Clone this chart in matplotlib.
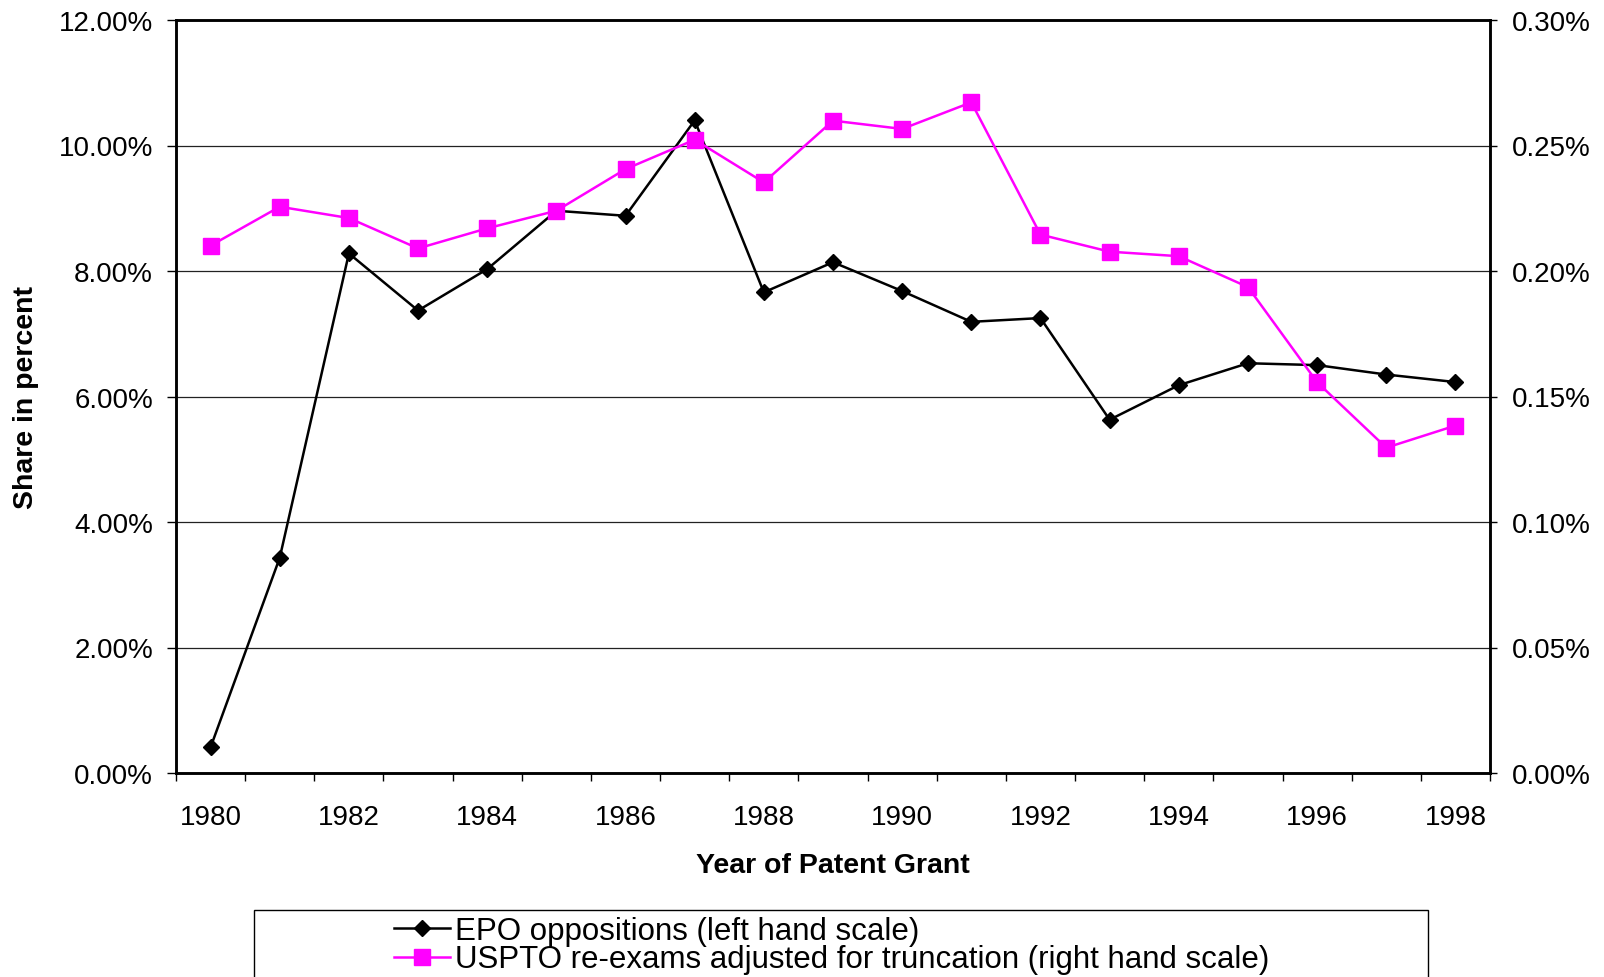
import matplotlib.pyplot as plt
from matplotlib.ticker import FixedLocator, FuncFormatter
from matplotlib.lines import Line2D
from matplotlib.patches import Rectangle

plt.rcParams['font.family'] = ['Liberation Sans', 'DejaVu Sans']

years = list(range(1980, 1999))
epo_oppositions = [0.41, 3.43, 8.28, 7.37, 8.03, 8.96, 8.88, 10.40, 7.66, 8.14,
                   7.68, 7.19, 7.25, 5.63, 6.18, 6.53, 6.50, 6.35, 6.23]
uspto_reexams = [0.2101, 0.2256, 0.2211, 0.2090, 0.2170, 0.2240, 0.2406, 0.2523, 0.2353, 0.2599,
                 0.2566, 0.2672, 0.2145, 0.2077, 0.2059, 0.1936, 0.1557, 0.1296, 0.1384]
year_labels = [str(y) for y in years[::2]]

W, H = 1604, 978
fig = plt.figure(figsize=(W / 100, H / 100), dpi=100)
ax = fig.add_axes([176 / W, 1 - 774 / H, (1490 - 176) / W, (774 - 21) / H])
ax2 = ax.twinx()

# left scale
ax.plot(years, epo_oppositions, color='black', lw=1.8, marker='D', ms=8.5,
        label='EPO oppositions (left hand scale)')
ax.set_ylim(0, 12)
ax.set_yticks([0, 2, 4, 6, 8, 10, 12])
ax.yaxis.set_major_formatter(FuncFormatter(lambda v, p: f"{v:.2f}%"))
ax.grid(axis='y', color='#222222', lw=0.9)
ax.set_axisbelow(True)

# right scale
ax2.plot(years, uspto_reexams, color='#FF00FF', lw=1.8, marker='s', ms=11,
         label='USPTO re-exams adjusted for truncation (right hand scale)')
ax2.set_ylim(0, 0.30)
ax2.set_yticks([0, 0.05, 0.10, 0.15, 0.20, 0.25, 0.30])
ax2.yaxis.set_major_formatter(FuncFormatter(lambda v, p: f"{v:.2f}%"))

# category axis: ticks between categories, labels every 2 years
ax.set_xlim(years[0] - 0.5, years[-1] + 0.5)
ax.xaxis.set_major_locator(FixedLocator([y - 0.5 for y in years] + [years[-1] + 0.5]))
ax.xaxis.set_major_formatter(FuncFormatter(lambda v, p: ''))
ax.xaxis.set_minor_locator(FixedLocator(years[::2]))
ax.set_xticklabels(year_labels, minor=True)
ax.tick_params(axis='x', which='major', length=6, width=1, direction='out')
ax.tick_params(axis='x', which='minor', length=0, pad=22, labelsize=20)
ax.tick_params(axis='y', length=6.5, width=1, pad=10, labelsize=20)
ax2.tick_params(axis='y', length=5, width=1, pad=11, labelsize=20)

for a in (ax, ax2):
    for s in a.spines.values():
        s.set_linewidth(1.8)

ax.set_xlabel('Year of Patent Grant', fontsize=20.5, fontweight='bold', labelpad=16)
ax.set_ylabel('Share in percent', fontsize=20.5, fontweight='bold', labelpad=14)

# legend box (runs off the bottom edge)
fig.patches.append(Rectangle((254 / W, 1 - 1000 / H), (1428 - 254) / W, (1000 - 911) / H,
                             transform=fig.transFigure, fill=False, edgecolor='black', lw=1))
handles = [Line2D([], [], color='black', lw=1.8, marker='D', ms=8.5),
           Line2D([], [], color='#FF00FF', lw=1.8, marker='s', ms=11)]
fig.legend(handles, ['EPO oppositions (left hand scale)',
                     'USPTO re-exams adjusted for truncation (right hand scale)'],
           loc='upper left', bbox_to_anchor=(394 / W, 1 - 917 / H), frameon=False,
           fontsize=22.5, handlelength=1.8, handletextpad=0.15, labelspacing=-0.05,
           borderpad=0, borderaxespad=0)

fig.savefig('out.png', dpi=100)
